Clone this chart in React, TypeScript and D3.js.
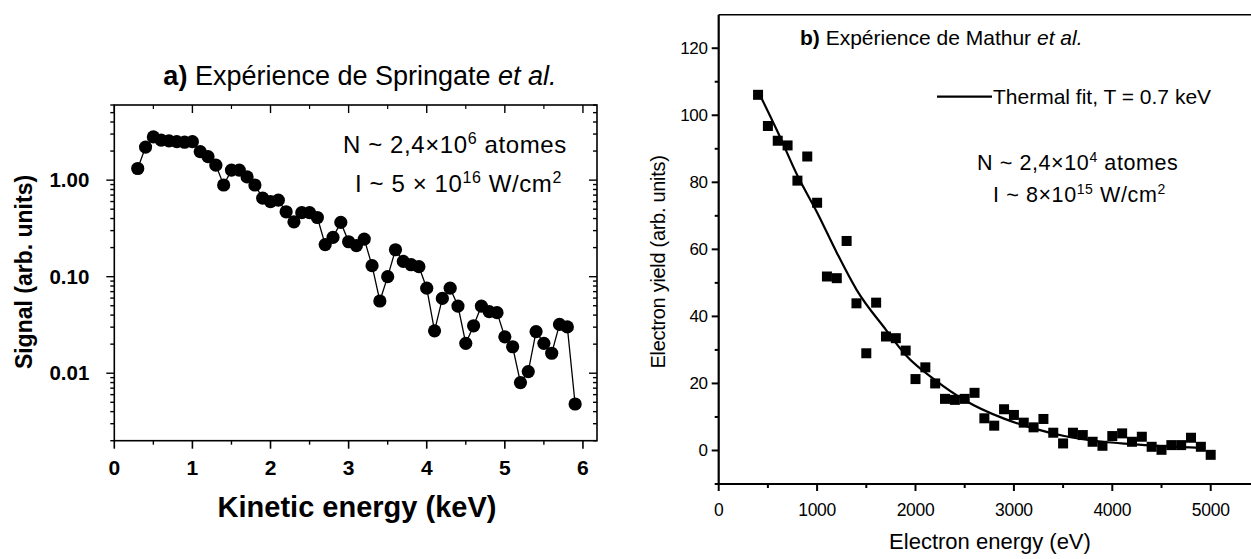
import React, { useEffect, useRef } from "react";
import * as d3 from "d3";

const W = 1251;
const H = 559;

// ---------- Panel a : Springate et al. ----------
const springateEnergy = [
  0.3, 0.4, 0.5, 0.6, 0.7, 0.8, 0.9, 1.0, 1.1, 1.2, 1.3, 1.4, 1.5, 1.6, 1.7, 1.8, 1.9,
  2.0, 2.1, 2.2, 2.3, 2.4, 2.5, 2.6, 2.7, 2.8, 2.9, 3.0, 3.1, 3.2, 3.3, 3.4, 3.5, 3.6,
  3.7, 3.8, 3.9, 4.0, 4.1, 4.2, 4.3, 4.4, 4.5, 4.6, 4.7, 4.8, 4.9, 5.0, 5.1, 5.2, 5.3,
  5.4, 5.5, 5.6, 5.7, 5.8, 5.9,
];
const springateSignal = [
  1.32, 2.2, 2.8, 2.6, 2.55, 2.5, 2.47, 2.5, 1.97, 1.75, 1.43, 0.89, 1.27, 1.27, 1.08, 0.89, 0.65,
  0.6, 0.62, 0.47, 0.37, 0.46, 0.46, 0.41, 0.215, 0.255, 0.365, 0.23, 0.21, 0.245, 0.13, 0.056, 0.1, 0.19,
  0.144, 0.133, 0.127, 0.076, 0.0275, 0.0595, 0.076, 0.0496, 0.0204, 0.031, 0.0496, 0.0434, 0.0424, 0.0238, 0.0188, 0.008, 0.0104,
  0.027, 0.0204, 0.0161, 0.032, 0.0302, 0.0048,
];
const springateXTicks = [0, 1, 2, 3, 4, 5, 6];
const springateXMinor = [0.5, 1.5, 2.5, 3.5, 4.5, 5.5];
const springateYTicks = [1, 0.1, 0.01];
const springateYTickLabels = ["1.00", "0.10", "0.01"];

// ---------- Panel b : Mathur et al. ----------
const mathurEnergy = [
  400, 500, 600, 700, 800, 900, 1000, 1100, 1200, 1300, 1400, 1500, 1600, 1700, 1800, 1900,
  2000, 2100, 2200, 2300, 2400, 2500, 2600, 2700, 2800, 2900, 3000, 3100, 3200, 3300, 3400,
  3500, 3600, 3700, 3800, 3900, 4000, 4100, 4200, 4300, 4400, 4500, 4600, 4700, 4800, 4900, 5000,
];
const mathurYield = [
  106.1, 96.8, 92.4, 91.0, 80.5, 87.7, 73.9, 51.9, 51.4, 62.5, 43.9, 29.0, 44.1, 34.0, 33.5, 29.8,
  21.3, 24.8, 20.0, 15.4, 15.1, 15.4, 17.2, 9.6, 7.4, 12.3, 10.6, 8.3, 6.9, 9.4, 5.3,
  2.1, 5.3, 4.6, 2.6, 1.4, 4.3, 5.1, 2.6, 4.1, 1.1, 0.2, 1.6, 1.6, 3.8, 1.1, -1.3,
];
const fitEnergy = [420, 600, 800, 1000, 1200, 1400, 1700, 1900, 2200, 2500, 2900, 3200, 3500, 3900, 4200, 4550, 4900];
const fitYield = [106, 95, 82, 71, 59, 48, 36, 28.5, 21, 15, 9.5, 6.6, 4.4, 2.6, 1.9, 1.2, 0.8];
const mathurXTicks = [0, 1000, 2000, 3000, 4000, 5000];
const mathurXMinor = [500, 1500, 2500, 3500, 4500];
const mathurYTicks = [0, 20, 40, 60, 80, 100, 120];
const mathurYMinor = [-10, 10, 30, 50, 70, 90, 110];

const SANS = "'Liberation Sans', Arial, Helvetica, sans-serif";

export default function App() {
  const ref = useRef<SVGSVGElement | null>(null);

  useEffect(() => {
    const svg = d3.select(ref.current);
    svg.selectAll("*").remove();

    // ===================== Panel a =====================
    const xa = d3.scaleLinear().domain([0, 6.18]).range([114.3, 597]);
    const ya = d3.scaleLog().domain([0.002, 6]).range([440.7, 105]);
    const ga = svg.append("g");

    const [ax0, ax1] = xa.range();
    const [ay0, ay1] = ya.range();
    ga.append("rect")
      .attr("x", ax0).attr("y", ay1)
      .attr("width", ax1 - ax0).attr("height", ay0 - ay1)
      .attr("fill", "none").attr("stroke", "#000").attr("stroke-width", 1.6);

    springateXTicks.forEach((t) => {
      ga.append("line").attr("x1", xa(t)).attr("x2", xa(t)).attr("y1", ay0).attr("y2", ay0 + 8)
        .attr("stroke", "#000").attr("stroke-width", 1.6);
      ga.append("line").attr("x1", xa(t)).attr("x2", xa(t)).attr("y1", ay1).attr("y2", ay1 + 8)
        .attr("stroke", "#000").attr("stroke-width", 1.4);
      ga.append("text").attr("x", xa(t)).attr("y", ay0 + 34)
        .attr("text-anchor", "middle").attr("font-family", SANS).attr("font-weight", "bold")
        .attr("font-size", 21).text(String(t));
    });
    springateXMinor.forEach((t) => {
      ga.append("line").attr("x1", xa(t)).attr("x2", xa(t)).attr("y1", ay0).attr("y2", ay0 + 4)
        .attr("stroke", "#000").attr("stroke-width", 1.4);
      ga.append("line").attr("x1", xa(t)).attr("x2", xa(t)).attr("y1", ay1).attr("y2", ay1 + 4)
        .attr("stroke", "#000").attr("stroke-width", 1.2);
    });

    const logTicks = ya.ticks().filter((v) => v >= 0.002 && v <= 6);
    logTicks.forEach((v) => {
      const major = springateYTicks.some((m) => Math.abs(m - v) / m < 1e-6);
      const len = major ? 8 : 4;
      ga.append("line").attr("x1", ax0 - len).attr("x2", ax0).attr("y1", ya(v)).attr("y2", ya(v))
        .attr("stroke", "#000").attr("stroke-width", 1.4);
      ga.append("line").attr("x1", ax1 - len).attr("x2", ax1).attr("y1", ya(v)).attr("y2", ya(v))
        .attr("stroke", "#000").attr("stroke-width", 1.4);
    });
    springateYTicks.forEach((v, i) => {
      ga.append("text").attr("x", ax0 - 25).attr("y", ya(v) + 7)
        .attr("text-anchor", "end").attr("font-family", SANS).attr("font-weight", "bold")
        .attr("font-size", 20.5).text(springateYTickLabels[i]);
    });

    const ptsA = springateEnergy.map((e, i) => [e, springateSignal[i]] as [number, number]);
    ga.append("path")
      .attr("d", d3.line<[number, number]>().x((d) => xa(d[0])).y((d) => ya(d[1]))(ptsA) || "")
      .attr("fill", "none").attr("stroke", "#000").attr("stroke-width", 1.3);
    ga.selectAll("circle.pa").data(ptsA).enter().append("circle")
      .attr("cx", (d) => xa(d[0])).attr("cy", (d) => ya(d[1])).attr("r", 6.6).attr("fill", "#000");

    ga.append("text").attr("x", 357).attr("y", 517)
      .attr("text-anchor", "middle").attr("font-family", SANS).attr("font-weight", "bold")
      .attr("font-size", 29).text("Kinetic energy (keV)");
    ga.append("text").attr("transform", `translate(32, 272) rotate(-90)`)
      .attr("text-anchor", "middle").attr("font-family", SANS).attr("font-weight", "bold")
      .attr("font-size", 23).text("Signal (arb. units)");

    const ta = ga.append("text").attr("x", 360).attr("y", 85).attr("text-anchor", "middle")
      .attr("font-family", SANS).attr("font-size", 27);
    ta.append("tspan").attr("font-weight", "bold").text("a)");
    ta.append("tspan").text(" Expérience de Springate ");
    ta.append("tspan").attr("font-style", "italic").text("et al.");

    const na = ga.append("text").attr("x", 343).attr("y", 153).attr("font-family", SANS)
      .attr("font-size", 24).attr("letter-spacing", 0.6);
    na.append("tspan").text("N ~ 2,4×10");
    na.append("tspan").attr("font-size", 16).attr("dy", -9).text("6");
    na.append("tspan").attr("dy", 9).text(" atomes");
    const ia = ga.append("text").attr("x", 355).attr("y", 192).attr("font-family", SANS)
      .attr("font-size", 24).attr("letter-spacing", 0.6);
    ia.append("tspan").text("I ~ 5 × 10");
    ia.append("tspan").attr("font-size", 16).attr("dy", -9).text("16");
    ia.append("tspan").attr("dy", 9).text(" W/cm");
    ia.append("tspan").attr("font-size", 16).attr("dy", -9).text("2");

    // ===================== Panel b =====================
    const xb = d3.scaleLinear().domain([0, 5000]).range([718.7, 1210.7]);
    const yb = d3.scaleLinear().domain([-10, 130]).range([484, 14.7]);
    const gb = svg.append("g");
    const bx0 = xb(0);
    const by0 = yb(-10);
    const by1 = yb(130);

    gb.append("line").attr("x1", bx0).attr("x2", W + 5).attr("y1", by1).attr("y2", by1)
      .attr("stroke", "#000").attr("stroke-width", 1.5);
    gb.append("line").attr("x1", bx0).attr("x2", W + 5).attr("y1", by0).attr("y2", by0)
      .attr("stroke", "#000").attr("stroke-width", 2.2);
    gb.append("line").attr("x1", bx0).attr("x2", bx0).attr("y1", by1).attr("y2", by0)
      .attr("stroke", "#000").attr("stroke-width", 2.2);

    mathurXTicks.forEach((t) => {
      gb.append("line").attr("x1", xb(t)).attr("x2", xb(t)).attr("y1", by0).attr("y2", by0 + 7)
        .attr("stroke", "#000").attr("stroke-width", 2);
      gb.append("text").attr("x", xb(t)).attr("y", by0 + 31.5).attr("text-anchor", "middle")
        .attr("font-family", SANS).attr("font-size", 17.5).attr("letter-spacing", -0.3).text(String(t));
    });
    mathurXMinor.forEach((t) => {
      gb.append("line").attr("x1", xb(t)).attr("x2", xb(t)).attr("y1", by0).attr("y2", by0 + 4)
        .attr("stroke", "#000").attr("stroke-width", 2);
    });
    mathurYTicks.forEach((t) => {
      gb.append("line").attr("x1", bx0 - 7).attr("x2", bx0).attr("y1", yb(t)).attr("y2", yb(t))
        .attr("stroke", "#000").attr("stroke-width", 2);
      gb.append("text").attr("x", bx0 - 11).attr("y", yb(t) + 6).attr("text-anchor", "end")
        .attr("font-family", SANS).attr("font-size", 17).attr("letter-spacing", -0.3).text(String(t));
    });
    mathurYMinor.forEach((t) => {
      gb.append("line").attr("x1", bx0 - 4).attr("x2", bx0).attr("y1", yb(t)).attr("y2", yb(t))
        .attr("stroke", "#000").attr("stroke-width", 2);
    });

    const fitPts = fitEnergy.map((e, i) => [e, fitYield[i]] as [number, number]);
    gb.append("path")
      .attr("d", d3.line<[number, number]>().x((d) => xb(d[0])).y((d) => yb(d[1])).curve(d3.curveMonotoneX)(fitPts) || "")
      .attr("fill", "none").attr("stroke", "#000").attr("stroke-width", 2.2);

    const s = 10;
    const ptsB = mathurEnergy.map((e, i) => [e, mathurYield[i]] as [number, number]);
    gb.selectAll("rect.pb").data(ptsB).enter().append("rect")
      .attr("x", (d) => xb(d[0]) - s / 2).attr("y", (d) => yb(d[1]) - s / 2)
      .attr("width", s).attr("height", s).attr("fill", "#000");

    gb.append("line").attr("x1", 937).attr("x2", 992).attr("y1", 96.7).attr("y2", 96.7)
      .attr("stroke", "#000").attr("stroke-width", 2.2);
    gb.append("text").attr("x", 993).attr("y", 104).attr("font-family", SANS).attr("font-size", 21)
      .text("Thermal fit, T = 0.7 keV");

    gb.append("text").attr("x", 990).attr("y", 549).attr("text-anchor", "middle")
      .attr("font-family", SANS).attr("font-size", 22).text("Electron energy (eV)");
    gb.append("text").attr("transform", `translate(665, 262) rotate(-90)`)
      .attr("text-anchor", "middle").attr("font-family", SANS).attr("font-size", 20)
      .attr("letter-spacing", -0.3).text("Electron yield (arb. units)");

    const tb = gb.append("text").attr("x", 800).attr("y", 45).attr("font-family", SANS).attr("font-size", 21);
    tb.append("tspan").attr("font-weight", "bold").text("b)");
    tb.append("tspan").text(" Expérience de Mathur ");
    tb.append("tspan").attr("font-style", "italic").text("et al.");

    const nb = gb.append("text").attr("x", 977).attr("y", 170).attr("font-family", SANS)
      .attr("font-size", 21.5).attr("letter-spacing", 0.6);
    nb.append("tspan").text("N ~ 2,4×10");
    nb.append("tspan").attr("font-size", 14).attr("dy", -8).text("4");
    nb.append("tspan").attr("dy", 8).text(" atomes");
    const ib = gb.append("text").attr("x", 993).attr("y", 202).attr("font-family", SANS)
      .attr("font-size", 21.5).attr("letter-spacing", 0.6);
    ib.append("tspan").text("I ~ 8×10");
    ib.append("tspan").attr("font-size", 14).attr("dy", -8).text("15");
    ib.append("tspan").attr("dy", 8).text(" W/cm");
    ib.append("tspan").attr("font-size", 14).attr("dy", -8).text("2");
  }, []);

  return (
    <svg
      ref={ref}
      width={W}
      height={H}
      viewBox={`0 0 ${W} ${H}`}
      style={{ position: "absolute", left: 0, top: 0, background: "#fff" }}
    />
  );
}
